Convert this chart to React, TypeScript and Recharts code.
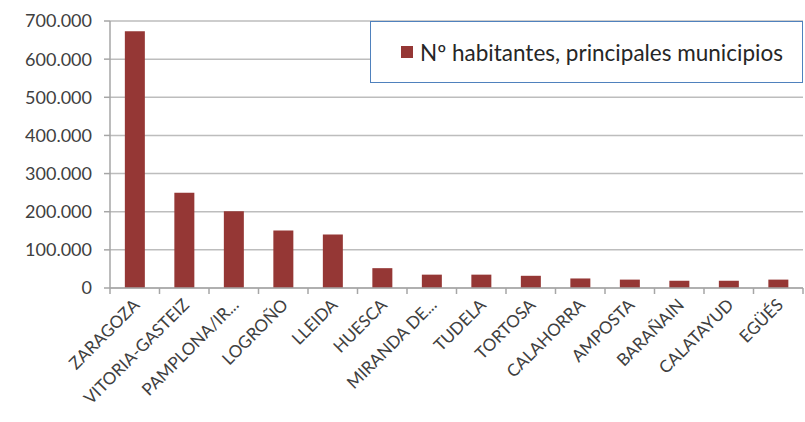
import { Bar, BarChart, CartesianGrid, XAxis, YAxis } from "recharts";

const WIDTH = 805;
const HEIGHT = 422;
const MARGIN = { top: 21, right: 2, left: 10, bottom: 0 };
const Y_AXIS_WIDTH = 100;
const X_AXIS_HEIGHT = 134;
const BAR_COLOR = "#953735";
const TEXT_COLOR = "#404040";
const FONT = "Lato, 'Open Sans', sans-serif";

const municipios = [
  "ZARAGOZA",
  "VITORIA-GASTEIZ",
  "PAMPLONA/IR...",
  "LOGROÑO",
  "LLEIDA",
  "HUESCA",
  "MIRANDA DE...",
  "TUDELA",
  "TORTOSA",
  "CALAHORRA",
  "AMPOSTA",
  "BARAÑAIN",
  "CALATAYUD",
  "EGÜÉS",
];

const habitantes = [
  673000, 250000, 201000, 151000, 140000, 52000, 35000, 35000, 32000, 25000,
  22000, 19000, 19000, 22000,
];

const yTicks = [0, 100000, 200000, 300000, 400000, 500000, 600000, 700000];

const SERIES_NAME = "Nº habitantes, principales municipios";

const data = municipios.map((name, i) => ({ name, value: habitantes[i] }));

const plotWidth = WIDTH - MARGIN.left - MARGIN.right - Y_AXIS_WIDTH;
const bandWidth = plotWidth / municipios.length;

const formatMiles = (v: number) =>
  v === 0 ? "0" : String(v).replace(/\B(?=(\d{3})+(?!\d))/g, ".");

// category label rotated 45°, plus the tick marks at band boundaries
function CategoryTick(props: any) {
  const { x, y, payload, index } = props;
  const left = x - bandWidth / 2;
  const axisY = y - 8;
  const lx = x + 6;
  const ly = y + 10;
  return (
    <g>
      <line x1={left} y1={axisY} x2={left} y2={axisY + 6} stroke="#a6a6a6" strokeWidth={1.5} />
      {index === municipios.length - 1 && (
        <line
          x1={left + bandWidth}
          y1={axisY}
          x2={left + bandWidth}
          y2={axisY + 6}
          stroke="#a6a6a6"
          strokeWidth={1.5}
        />
      )}
      <text
        x={lx}
        y={ly}
        transform={`rotate(-45, ${lx}, ${ly})`}
        textAnchor="end"
        fill={TEXT_COLOR}
        fontSize={17}
        fontFamily={FONT}
      >
        {payload.value}
      </text>
    </g>
  );
}

function LegendBox() {
  return (
    <div
      style={{
        position: "absolute",
        left: 370,
        top: 21,
        boxSizing: "border-box",
        width: 433,
        height: 62,
        border: "1.5px solid #4f81bd",
        background: "#fff",
        display: "flex",
        alignItems: "center",
        paddingLeft: 30,
        fontFamily: FONT,
        fontSize: 22.5,
        color: "#262626",
        whiteSpace: "nowrap",
      }}
    >
      <span
        style={{
          display: "inline-block",
          width: 12,
          height: 12,
          background: BAR_COLOR,
          marginRight: 7,
        }}
      />
      {SERIES_NAME}
    </div>
  );
}

export default function App() {
  return (
    <div
      style={{
        position: "absolute",
        left: 0,
        top: 0,
        width: WIDTH,
        height: HEIGHT,
        background: "#fff",
      }}
    >
      <BarChart
        width={WIDTH}
        height={HEIGHT}
        data={data}
        margin={MARGIN}
        barCategoryGap="30%"
      >
        <CartesianGrid vertical={false} stroke="#bdbdbd" strokeWidth={1.5} />
        <XAxis
          dataKey="name"
          interval={0}
          height={X_AXIS_HEIGHT}
          tickLine={false}
          axisLine={{ stroke: "#a6a6a6", strokeWidth: 1.5 }}
          tick={<CategoryTick />}
        />
        <YAxis
          width={Y_AXIS_WIDTH}
          domain={[0, 700000]}
          ticks={yTicks}
          tickFormatter={formatMiles}
          tickSize={6}
          tickMargin={12}
          tickLine={{ stroke: "#a6a6a6", strokeWidth: 1.5 }}
          axisLine={{ stroke: "#a6a6a6", strokeWidth: 1.5 }}
          tick={{
            fill: TEXT_COLOR,
            fontSize: 18,
            fontFamily: FONT,
            style: { fontVariantNumeric: "tabular-nums" },
          }}
        />
        <Bar
          dataKey="value"
          name={SERIES_NAME}
          fill={BAR_COLOR}
          isAnimationActive={false}
        />
      </BarChart>
      <LegendBox />
    </div>
  );
}
